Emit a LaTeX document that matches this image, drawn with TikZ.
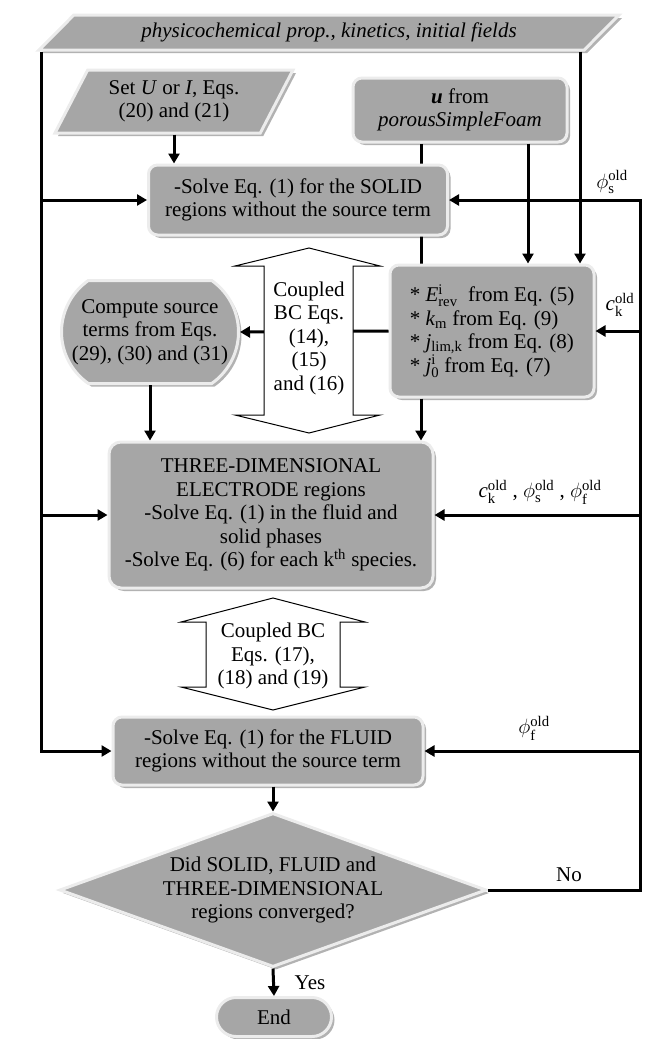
\documentclass[tikz,border=0pt]{standalone}
\usepackage{fontspec}
\setmainfont{Liberation Serif}
\usepackage{amsmath}
\usetikzlibrary{arrows.meta,shapes.geometric,shapes.misc,shadows,backgrounds}
\definecolor{boxgray}{RGB}{166,166,166}
\definecolor{rimgray}{RGB}{236,236,236}

\begin{document}
\begin{tikzpicture}[x=1pt, y=-1pt, font=\fontsize{21}{23.5}\selectfont,
    every node/.style={align=center, inner sep=0pt},
    raised/.style={draw=rimgray, fill=boxgray, line width=3pt,
      drop shadow={shadow xshift=3pt, shadow yshift=-3pt, fill=black, opacity=0.3}},
    block/.style={raised, rounded corners=9pt},
    slanted/.style={raised, trapezium, trapezium stretches body},
    oval/.style={raised, rounded rectangle},
    choice/.style={raised, diamond, aspect=2.77},
    arr/.style={line width=3pt, -{Triangle[length=10pt, width=11pt]}},
    link/.style={line width=3pt},
    dbl/.style={draw, fill=white, line width=1pt}]
  \useasboundingbox (0,0) rectangle (646,1039);
  \node[slanted, trapezium left angle=29, trapezium right angle=151, minimum width=580pt, minimum height=35pt] (input) at (329,32.5) {\itshape physicochemical prop., kinetics, initial fields};
  \node[slanted, trapezium left angle=52, trapezium right angle=128, minimum width=238pt, minimum height=63pt] (setui) at (174,101.5) {Set \textit{U} or \textit{I}, Eqs.\\(20) and (21)};
  \node[block, minimum width=214pt, minimum height=64pt] (uvel) at (460,110) {\textbf{\textit{u}} from\\\textit{porousSimpleFoam}};
  \node[block, minimum width=299pt, minimum height=70pt] (solid) at (298,200) {-Solve Eq. (1) for the SOLID\\regions without the source term};
  \node[block, minimum width=204pt, minimum height=132pt, align=left] (param) at (492,331) {* \textit{E}$^{\text{i}}_{\text{rev}}$\ \ from Eq. (5)\\* \textit{k}$_{\text{m}}$ from Eq. (9)\\* \textit{j}$_{\text{lim,k}}$ from Eq. (8)\\* \textit{j}$^{\text{i}}_{\text{0}}$\ from Eq. (7)};
  \node[oval, rounded rectangle arc length=110, minimum width=177pt, minimum height=103pt] (source) at (150,332) {Compute source\\terms from Eqs.\\(29), (30) and (31)};
  \node[block, rounded corners=12pt, minimum width=324pt, minimum height=146pt] (threed) at (271,515) {THREE-DIMENSIONAL\\ELECTRODE regions\\-Solve Eq. (1) in the fluid and\\solid phases\\-Solve Eq. (6) for each k\textsuperscript{th} species.};
  \node[block, minimum width=310pt, minimum height=68pt] (fluid) at (268,751) {-Solve Eq. (1) for the FLUID\\regions without the source term};
  \node[choice, minimum width=427pt, minimum height=154pt] (check) at (273,890) {Did SOLID, FLUID and\\THREE-DIMENSIONAL\\regions converged?};
  \node[oval, minimum width=115pt, minimum height=39pt] (stop) at (274,1017) {End};

  \node (phis) at (612,182) {$\phi^{\text{old}}_{\text{s}}$};
  \node (ck) at (620,305) {\textit{c}$^{\text{old}}_{\text{k}}$};
  \node (all) at (540,492) {\textit{c}$^{\text{old}}_{\text{k}}$ , $\phi^{\text{old}}_{\text{s}}$ , $\phi^{\text{old}}_{\text{f}}$};
  \node (phif) at (534,728) {$\phi^{\text{old}}_{\text{f}}$};
  \node (no) at (569,875) {No};
  \node (yes) at (310,983) {Yes};

  \coordinate (xl) at (41,0);
  \coordinate (xr) at (640,0);
  \coordinate (xm) at (421,0);
  \coordinate (xu) at (528,0);
  \coordinate (xi) at (580,0);

  \begin{scope}[on background layer]
    \draw[link] (uvel.south -| xm) -- (param.north -| xm);
  \end{scope}
  \draw[arr] (input.south -| xl) |- (fluid.west);
  \foreach \n in {solid, threed}
    \draw[arr] (xl |- \n.west) -- (\n.west);
  \draw[arr] (check.east) -| (xr |- solid.east) -- (solid.east);
  \foreach \n in {param, threed, fluid}
    \draw[arr] (xr |- \n.east) -- (\n.east);
  \draw[arr] (input.south -| xi) -- (param.north -| xi);
  \draw[arr] (uvel.south -| xu) -- (param.north -| xu);
  \draw[arr] (setui.south) -- (setui.south |- solid.north);
  \draw[arr] (param.south -| xm) -- (threed.north -| xm);
  \draw[arr] (source.south) -- (source.south |- threed.north);
  \draw[arr] (param.west) -- (source.east);
  \draw[arr] (fluid.south -| check.north) -- (check.north);
  \draw[arr] (check.south) -- (stop.north);

  \draw[dbl] (309,248) -- (380,266) -- (353,266) -- (353,415) -- (380,415) -- (309,433) -- (235,415) -- (264,415) -- (264,266) -- (235,266) -- cycle;
  \node (bcone) at (309,338) {Coupled\\BC Eqs.\\(14),\\(15)\\and (16)};
  \draw[dbl] (273,598) -- (365,622) -- (340,622) -- (340,687) -- (365,687) -- (273,710) -- (181,687) -- (206,687) -- (206,622) -- (181,622) -- cycle;
  \node (bctwo) at (273,656) {Coupled BC\\Eqs. (17),\\(18) and (19)};
\end{tikzpicture}
\end{document}
